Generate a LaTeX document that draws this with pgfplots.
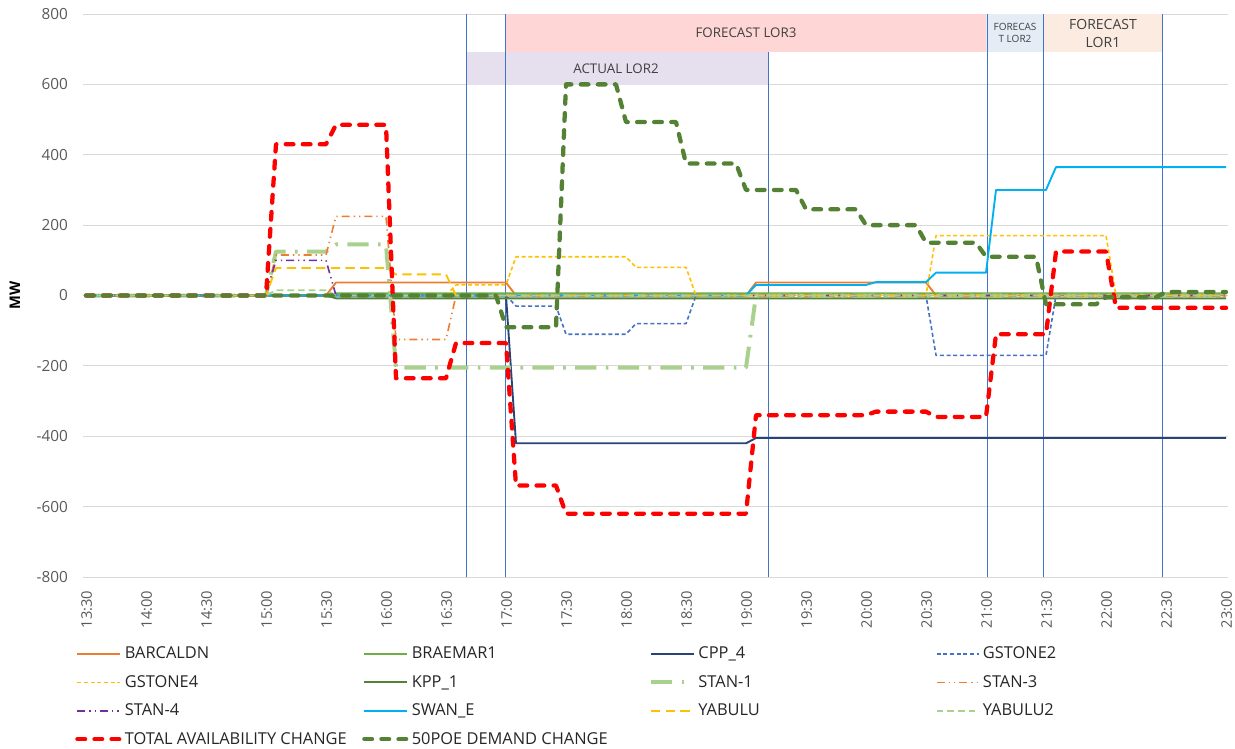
\documentclass[border=0pt]{standalone}
\usepackage{fontspec}
\setmainfont{Open Sans}
\usepackage{pgfplots}
\pgfplotsset{compat=1.18}

\definecolor{barc}{HTML}{ED7D31}
\definecolor{braemar}{HTML}{70AD47}
\definecolor{cpp}{HTML}{264478}
\definecolor{gst2}{HTML}{4472C4}
\definecolor{gold}{HTML}{FFC000}
\definecolor{kpp}{HTML}{548235}
\definecolor{stanone}{HTML}{A9D18E}
\definecolor{stanfour}{HTML}{7030A0}
\definecolor{swan}{HTML}{00B0F0}
\definecolor{lor3}{HTML}{FFD6D6}
\definecolor{actlor2}{HTML}{E5DFEE}
\definecolor{fclor2}{HTML}{E4ECF6}
\definecolor{fclor1}{HTML}{FBEBE1}
\definecolor{vline}{HTML}{4472C4}
\definecolor{ticktext}{HTML}{595959}
\definecolor{bandtext}{HTML}{404040}

\newcommand\lgd[1]{\makebox[176pt][l]{#1}}

\begin{document}
\begin{tikzpicture}
\useasboundingbox (-62.25pt,-129pt) rectangle (864pt,432.75pt);
\begin{axis}[
  at={(0pt,0pt)}, anchor=south west,
  scale only axis,
  width=858.75pt, height=422.25pt,
  xmin=-1.5, xmax=571,
  ymin=-800, ymax=800,
  xtick={0,30,...,570},
  xticklabels={13:30,14:00,14:30,15:00,15:30,16:00,16:30,17:00,17:30,18:00,18:30,19:00,19:30,20:00,20:30,21:00,21:30,22:00,22:30,23:00},
  ytick={-800,-600,...,800},
  /pgf/number format/assume math mode=true,
  tick label style={text=ticktext},
  xticklabel style={font=\fontsize{11}{13}\selectfont, rotate=90, anchor=east, xshift=-6.75pt, yshift=-0.5pt},
  yticklabel style={font=\fontsize{11.5}{13}\selectfont, anchor=east, xshift=-7.75pt},
  major tick length=0pt,
  axis line style={draw=none},
  ymajorgrids,
  grid style={draw=black!15, line width=0.6pt},
  ylabel={\bfseries MW},
  ylabel style={at={(axis description cs:-0.0594,0.5)}, anchor=center, font=\fontsize{11}{13}\selectfont},
  legend columns=4,
  legend style={draw=none, fill=none, at={(axis description cs:0,0)}, anchor=north west,
    xshift=-6pt, yshift=-50.3pt, font=\fontsize{12.3}{14.5}\selectfont, text=black!85,
    row sep=6.9pt, inner sep=0pt},
  legend cell align=left,
  legend image code/.code={\draw[#1] (0pt,0pt) -- (32pt,0pt);},
  line join=round,
]
% shaded LOR periods
\fill[lor3] (axis cs:210,693) rectangle (axis cs:450,800);
\fill[actlor2] (axis cs:190,597) rectangle (axis cs:341,693);
\fill[fclor2] (axis cs:450,693) rectangle (axis cs:479,800);
\fill[fclor1] (axis cs:479,693) rectangle (axis cs:538,800);
% period boundaries
\draw[vline, line width=0.6pt] (axis cs:190,-800) -- (axis cs:190,800);
\draw[vline, line width=0.6pt] (axis cs:209.5,-800) -- (axis cs:209.5,800);
\draw[vline, line width=0.6pt] (axis cs:341,-800) -- (axis cs:341,693);
\draw[vline, line width=0.6pt] (axis cs:450.5,-800) -- (axis cs:450.5,800);
\draw[vline, line width=0.6pt] (axis cs:478.5,-800) -- (axis cs:478.5,800);
\draw[vline, line width=0.6pt] (axis cs:538,-800) -- (axis cs:538,800);

\addplot[barc, line width=1.4pt] coordinates {(0,0)(120,0)(125,37)(210,37)(215,0)(330,0)(335,37)(420,37)(425,0)(570,0)};
\addlegendentry{\lgd{BARCALDN}}
\addplot[braemar, line width=1.4pt] coordinates {(0,0)(120,0)(125,6)(570,6)};
\addlegendentry{\lgd{BRAEMAR1}}
\addplot[cpp, line width=1.4pt] coordinates {(0,0)(210,0)(215,-420)(330,-420)(335,-405)(570,-405)};
\addlegendentry{\lgd{CPP\_4}}
\addplot[gst2, line width=1.2pt, dash pattern=on 3pt off 2pt] coordinates {(0,0)(210,0)(215,-30)(235,-30)(240,-110)(270,-110)(275,-80)(300,-80)(305,0)(420,0)(425,-170)(480,-170)(485,0)(570,0)};
\addlegendentry{\lgd{GSTONE2}}
\addplot[gold, line width=1.2pt, dash pattern=on 3pt off 2pt] coordinates {(0,0)(180,0)(185,30)(210,30)(215,110)(270,110)(275,80)(300,80)(305,0)(420,0)(425,170)(510,170)(515,0)(570,0)};
\addlegendentry{\lgd{GSTONE4}}
\addplot[kpp, line width=1.4pt] coordinates {(0,0)(120,0)(125,-8)(570,-8)};
\addlegendentry{\lgd{KPP\_1}}
\addplot[stanone, line width=3pt, dash pattern=on 16pt off 7pt on 2pt off 7pt] coordinates {(0,0)(90,0)(95,125)(120,125)(125,145)(150,145)(155,-205)(330,-205)(335,0)(570,0)};
\addlegendentry{\lgd{STAN-1}}
\addplot[barc, line width=1.2pt, dash pattern=on 6pt off 3pt on 1pt off 3pt on 1pt off 3pt] coordinates {(0,0)(90,0)(95,115)(120,115)(125,225)(150,225)(155,-125)(180,-125)(185,0)(570,0)};
\addlegendentry{\lgd{STAN-3}}
\addplot[stanfour, line width=1.2pt, dash pattern=on 6pt off 3pt on 1pt off 3pt on 1pt off 3pt] coordinates {(0,0)(90,0)(95,100)(120,100)(125,0)(570,0)};
\addlegendentry{\lgd{STAN-4}}
\addplot[swan, line width=1.4pt] coordinates {(0,0)(330,0)(335,30)(390,30)(395,38)(420,38)(425,65)(450,65)(455,300)(480,300)(485,365)(570,365)};
\addlegendentry{\lgd{SWAN\_E}}
\addplot[gold, line width=1.4pt, dash pattern=on 7pt off 4pt] coordinates {(0,0)(90,0)(95,78)(150,78)(155,60)(180,60)(185,0)(570,0)};
\addlegendentry{\lgd{YABULU}}
\addplot[stanone, line width=1.4pt, dash pattern=on 5pt off 3pt] coordinates {(0,0)(90,0)(95,15)(120,15)(125,0)(570,0)};
\addlegendentry{\lgd{YABULU2}}
\addplot[red, line width=3.2pt, line cap=round, dash pattern=on 5.8pt off 7pt] coordinates {(0,0)(90,0)(95,430)(120,430)(125,485)(150,485)(155,-235)(180,-235)(185,-135)(210,-135)(215,-540)(235,-540)(240,-620)(330,-620)(335,-340)(390,-340)(395,-330)(420,-330)(425,-345)(450,-345)(455,-110)(480,-110)(485,125)(510,125)(515,-35)(570,-35)};
\addlegendentry{\lgd{TOTAL AVAILABILITY CHANGE}}
\addplot[kpp, line width=3.2pt, line cap=round, dash pattern=on 5.8pt off 7pt] coordinates {(0,0)(205,0)(210,-90)(235,-90)(240,600)(265,600)(270,493)(295,493)(300,375)(325,375)(330,300)(355,300)(360,245)(385,245)(390,200)(415,200)(420,150)(445,150)(450,110)(475,110)(480,-25)(505,-25)(510,-5)(535,-5)(540,10)(570,10)};
\addlegendentry{\lgd{50POE DEMAND CHANGE}}

% period labels
\node[text=bandtext, font=\fontsize{10}{12}\selectfont] at (axis cs:330,747) {FORECAST LOR3};
\node[text=bandtext, font=\fontsize{10}{12}\selectfont] at (axis cs:265,645) {ACTUAL LOR2};
\node[text=bandtext, font=\fontsize{7.5}{9.5}\selectfont, align=center] at (axis cs:464.5,746) {FORECAS\\T LOR2};
\node[text=bandtext, font=\fontsize{10.5}{13.5}\selectfont, align=center] at (axis cs:508.5,746) {FORECAST\\LOR1};
\end{axis}
\end{tikzpicture}
\end{document}
